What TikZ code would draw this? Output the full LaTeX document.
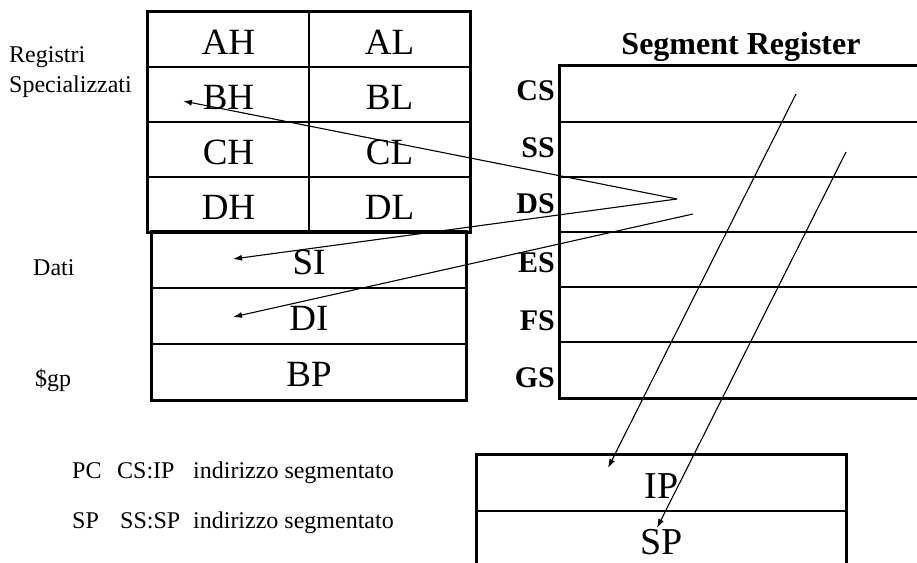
\documentclass[tikz,border=0pt]{standalone}
\usepackage{fontspec}
\setmainfont{Liberation Serif}
\usetikzlibrary{arrows.meta}
\begin{document}
\begin{tikzpicture}[x=1pt,y=-1pt,
  thin line/.style={line width=1.3pt},
  thick line/.style={line width=3pt},
  cell/.style={draw,thin line,inner sep=0pt,text height=29.5pt,text depth=0pt,
    font=\fontsize{37}{37}\selectfont},
  halfcell/.style={cell,minimum width=161pt,minimum height=55pt},
  widecell/.style={cell,minimum width=314pt,minimum height=56pt},
  segrow/.style={draw,thin line,inner sep=0pt,minimum width=380pt,minimum height=55pt},
  ipcell/.style={cell,minimum width=369pt,minimum height=56pt,text height=31pt,font=\fontsize{38}{38}\selectfont},
  seglabel/.style={anchor=east,inner sep=0pt,text depth=0pt,font=\fontsize{30}{30}\selectfont\bfseries},
  sidetext/.style={anchor=base west,inner sep=0pt,font=\fontsize{24}{24}\selectfont},
  arr/.style={line width=1.1pt,-{Latex[length=9pt,width=6pt]}}
]
\clip (0,0) rectangle (917,562);
\fill[white] (0,0) rectangle (917,562);

% --- general purpose registers ---
\node[halfcell] (AH) at (228.5,39.5) {AH};
\node[halfcell] (AL) at (389.5,39.5) {AL};
\node[halfcell] (BH) at (228.5,94.5) {BH};
\node[halfcell] (BL) at (389.5,94.5) {BL};
\node[halfcell] (CH) at (228.5,149.5) {CH};
\node[halfcell] (CL) at (389.5,149.5) {CL};
\node[halfcell] (DH) at (228.5,204.5) {DH};
\node[halfcell] (DL) at (389.5,204.5) {DL};
\draw[thick line] (AH.north west) rectangle (DL.south east);

\node[widecell] (SI) at (309,260) {SI};
\node[widecell] (DI) at (309,316) {DI};
\node[widecell] (BP) at (309,372) {BP};
\draw[thick line] (SI.north west) rectangle (BP.south east);

% --- side labels ---
\node[sidetext] (reg1) at (9,62) {Registri};
\node[sidetext] (reg2) at (9,92) {Specializzati};
\node[sidetext] (dati) at (33,275) {Dati};
\node[sidetext] (gp) at (35,386) {\$gp};

% --- segment registers ---
\node[font=\fontsize{32}{32}\selectfont\bfseries,inner sep=0pt,text depth=0pt] (segtitle) at (741,43) {Segment Register};
\node[segrow] (rCS) at (750,94) {};
\node[segrow] (rSS) at (750,149.5) {};
\node[segrow] (rDS) at (750,204.5) {};
\node[segrow] (rES) at (750,259.5) {};
\node[segrow] (rFS) at (750,314.5) {};
\node[segrow] (rGS) at (750,370) {};
\draw[thick line] (rCS.north east) -- (rCS.north west) -- (rGS.south west) -- (rGS.south east);

\node[seglabel] (lCS) at (555,91) {CS};
\node[seglabel] (lSS) at (555,147.5) {SS};
\node[seglabel] (lDS) at (555,204) {DS};
\node[seglabel] (lES) at (555,262.5) {ES};
\node[seglabel] (lFS) at (555,320.5) {FS};
\node[seglabel] (lGS) at (555,377.5) {GS};

% --- IP / SP ---
\node[ipcell] (IP) at (661.5,483) {IP};
\node[ipcell] (SP) at (661.5,539) {SP};
\draw[thick line] (IP.south west) -- (IP.north west) -- (IP.north east) -- (IP.south east);
\draw[thick line] (SP.north west) -- (SP.south west);
\draw[thick line] (SP.north east) -- (SP.south east);

% --- bottom text ---
\node[sidetext] (pctext) at (72,478) {\makebox[45pt][l]{PC}\makebox[76pt][l]{CS:IP}indirizzo segmentato};
\node[sidetext] (sptext) at (72,528) {\makebox[48pt][l]{SP}\makebox[73pt][l]{SS:SP}indirizzo segmentato};

% --- arrows ---
\coordinate (sDS) at (677,199);
\coordinate (sDS2) at (693,214);
\coordinate (sCS) at (796,94);
\coordinate (sSS) at (846,152);
\coordinate (tBH) at (183,101);
\coordinate (tSI) at (233,259);
\coordinate (tDI) at (233,317);
\coordinate (tIP) at (608,468);
\coordinate (tSP) at (657,528);
\draw[arr] (sDS) -- (tBH);
\draw[arr] (sDS) -- (tSI);
\draw[arr] (sDS2) -- (tDI);
\draw[arr] (sCS) -- (tIP);
\draw[arr] (sSS) -- (tSP);
\end{tikzpicture}
\end{document}
